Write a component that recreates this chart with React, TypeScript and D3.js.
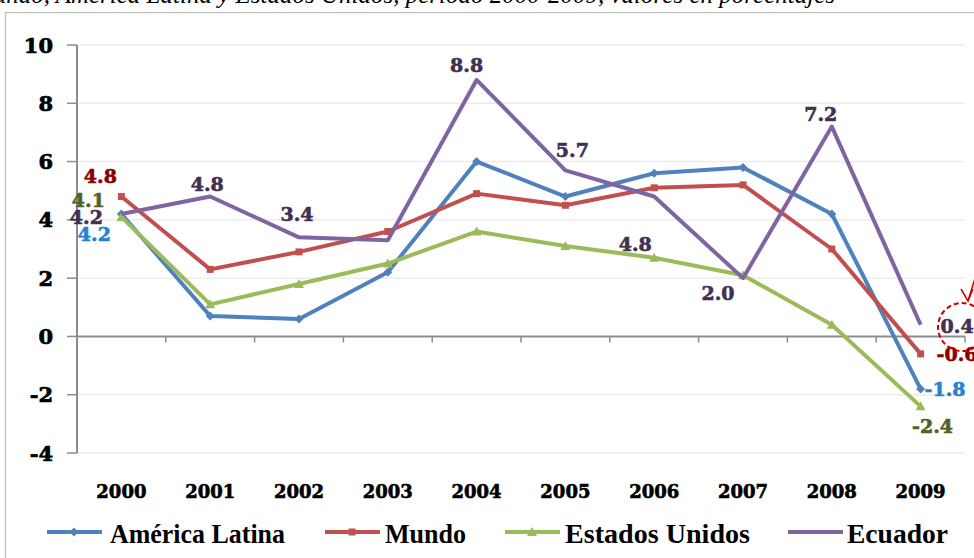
import React from "react";
import * as d3 from "d3";

const years = ["2000", "2001", "2002", "2003", "2004", "2005", "2006", "2007", "2008", "2009"];
const americaLatina = [4.2, 0.7, 0.6, 2.2, 6.0, 4.8, 5.6, 5.8, 4.2, -1.8];
const mundo = [4.8, 2.3, 2.9, 3.6, 4.9, 4.5, 5.1, 5.2, 3.0, -0.6];
const estadosUnidos = [4.1, 1.1, 1.8, 2.5, 3.6, 3.1, 2.7, 2.1, 0.4, -2.4];
const ecuador = [4.2, 4.8, 3.4, 3.3, 8.8, 5.7, 4.8, 2.0, 7.2, 0.4];
const yTicks = [-4, -2, 0, 2, 4, 6, 8, 10];
const seriesNames = ["América Latina", "Mundo", "Estados Unidos", "Ecuador"];
const titleText =
  "Tasa de crecimiento del PIB: Mundo, América Latina y Estados Unidos, período 2000-2009, valores en porcentajes";

// which points carry a data label: [seriesIndex, pointIndex]
const labeledPoints: [number, number][] = [
  [3, 0], [3, 1], [3, 2], [3, 4], [3, 5], [3, 6], [3, 7], [3, 8], [3, 9],
  [1, 0], [1, 9], [2, 0], [2, 9], [0, 0], [0, 9],
];

// label placement (layout only)
const labelOffsets: Record<string, { dx: number; dy: number; anchor: string }> = {
  "3-0": { dx: -35, dy: 10, anchor: "middle" },
  "3-1": { dx: -3, dy: -6, anchor: "middle" },
  "3-2": { dx: -2, dy: -16, anchor: "middle" },
  "3-4": { dx: -10, dy: -8, anchor: "middle" },
  "3-5": { dx: 7, dy: -13, anchor: "middle" },
  "3-6": { dx: -19, dy: 54, anchor: "middle" },
  "3-7": { dx: -25, dy: 22, anchor: "middle" },
  "3-8": { dx: -11, dy: -6, anchor: "middle" },
  "3-9": { dx: 20, dy: 8, anchor: "start" },
  "1-0": { dx: -21, dy: -14, anchor: "middle" },
  "1-9": { dx: 16, dy: 7, anchor: "start" },
  "2-0": { dx: -33, dy: -10, anchor: "middle" },
  "2-9": { dx: 12, dy: 27, anchor: "middle" },
  "0-0": { dx: -27, dy: 27, anchor: "middle" },
  "0-9": { dx: 4, dy: 7, anchor: "start" },
};

const lineColors = ["#4f81bd", "#c0504d", "#9bbb59", "#8064a2"];
const labelColors = ["#2a7fd4", "#8b0000", "#4f6228", "#403152"];
const markers = ["diamond", "square", "triangle", "none"];

const x = d3.scaleBand<string>().domain(years).range([77, 965]);
const y = d3.scaleLinear().domain([-4, 10]).range([453, 45]);
const cx = (i: number) => (x(years[i]) as number) + x.bandwidth() / 2;

function Marker({ type, px, py, color }: { type: string; px: number; py: number; color: string }) {
  if (type === "diamond") {
    const s = 4.5;
    return <path d={`M${px},${py - s}L${px + s},${py}L${px},${py + s}L${px - s},${py}Z`} fill={color} />;
  }
  if (type === "square") {
    const s = 3.5;
    return <rect x={px - s} y={py - s} width={2 * s} height={2 * s} fill={color} />;
  }
  if (type === "triangle") {
    const s = 5;
    return <path d={`M${px},${py - s}L${px + s},${py + s * 0.8}L${px - s},${py + s * 0.8}Z`} fill={color} />;
  }
  return null;
}

export default function App() {
  const allSeries = [americaLatina, mundo, estadosUnidos, ecuador];
  const line = d3
    .line<number>()
    .x((_, i) => cx(i))
    .y((v) => y(v));

  const legendItems = [
    { lx: 47, tx: 110, tw: 175 },
    { lx: 325, tx: 385, tw: 81 },
    { lx: 505, tx: 565, tw: 185 },
    { lx: 788, tx: 847, tw: 101 },
  ];

  const tickFont = "'DejaVu Serif', serif";

  return (
    <svg
      width={974}
      height={558}
      style={{ position: "absolute", left: 0, top: 0, background: "#fff" }}
      fontFamily={tickFont}
    >
      <rect x={0} y={0} width={974} height={558} fill="#fff" />
      <text
        x={835}
        y={3}
        textAnchor="end"
        fontFamily="'Liberation Serif', serif"
        fontStyle="italic"
        fontSize={25}
        fill="#000"
      >
        {titleText}
      </text>
      <rect x={5.5} y={12.5} width={1000} height={600} fill="none" stroke="#bdbdbd" strokeWidth={1.2} />

      {/* gridlines */}
      {yTicks.map((t) =>
        t === 0 ? null : (
          <line key={t} x1={77} x2={965} y1={y(t)} y2={y(t)} stroke="#ececec" strokeWidth={1.5} />
        )
      )}
      {/* zero axis */}
      <line x1={77} x2={965} y1={y(0)} y2={y(0)} stroke="#8c8c8c" strokeWidth={2} />
      {d3.range(years.length + 1).map((i) => (
        <line key={i} x1={77 + i * x.step()} x2={77 + i * x.step()} y1={y(0)} y2={y(0) + 6} stroke="#8c8c8c" strokeWidth={1.5} />
      ))}
      {/* y axis */}
      <line x1={77} x2={77} y1={y(10)} y2={y(-4)} stroke="#8c8c8c" strokeWidth={2} />
      {yTicks.map((t) => (
        <g key={t}>
          <line x1={67} x2={77} y1={y(t)} y2={y(t)} stroke="#8c8c8c" strokeWidth={1.5} />
          <text x={53} y={y(t) + 7.5} textAnchor="end" fontSize={21} fontWeight="bold" fill="#000" stroke="#000" strokeWidth={0.7}>
            {t}
          </text>
        </g>
      ))}
      {/* x labels */}
      {years.map((yr, i) => (
        <text key={yr} x={cx(i)} y={498} textAnchor="middle" fontSize={18} fontWeight="bold" fill="#000" stroke="#000" strokeWidth={0.6}>
          {yr}
        </text>
      ))}

      {/* series */}
      {allSeries.map((s, si) => (
        <g key={si}>
          <path d={line(s) as string} fill="none" stroke={lineColors[si]} strokeWidth={4} strokeLinejoin="round" />
          {s.map((v, i) => (
            <Marker key={i} type={markers[si]} px={cx(i)} py={y(v)} color={lineColors[si]} />
          ))}
        </g>
      ))}

      {/* data labels */}
      {labeledPoints.map(([si, i]) => {
        const o = labelOffsets[`${si}-${i}`];
        const v = allSeries[si][i];
        return (
          <text
            key={`${si}-${i}`}
            x={cx(i) + o.dx}
            y={y(v) + o.dy}
            textAnchor={o.anchor}
            fontSize={19}
            fontWeight="bold"
            fill={labelColors[si]}
            stroke={labelColors[si]}
            strokeWidth={0.6}
          >
            {v.toFixed(1)}
          </text>
        );
      })}

      {/* annotation: dashed circle and arrow */}
      <circle cx={962} cy={327} r={24} fill="none" stroke="#cc0000" strokeWidth={2} strokeDasharray="5,3" />
      <line x1={980} y1={262} x2={968} y2={301} stroke="#cc0000" strokeWidth={1.5} />
      <path d="M961,289 L968,301 L973,289" fill="none" stroke="#cc0000" strokeWidth={1.5} />

      {/* legend */}
      {legendItems.map((it, si) => (
        <g key={si}>
          <line x1={it.lx} x2={it.lx + 55} y1={532} y2={532} stroke={lineColors[si]} strokeWidth={4} />
          <Marker type={markers[si]} px={it.lx + 27} py={532} color={lineColors[si]} />
          <text
            x={it.tx}
            y={543}
            fontFamily="'Liberation Serif', serif"
            fontWeight="bold"
            fontSize={27}
            textLength={it.tw}
            lengthAdjust="spacingAndGlyphs"
            fill="#000"
          >
            {seriesNames[si]}
          </text>
        </g>
      ))}
    </svg>
  );
}
